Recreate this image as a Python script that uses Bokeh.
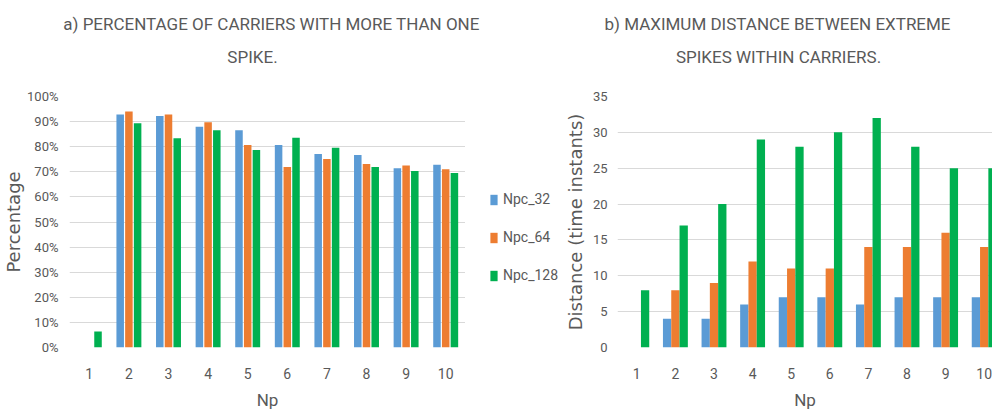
from bokeh.plotting import figure
from bokeh.layouts import row, column
from bokeh.models import (ColumnDataSource, Legend, LegendItem, Label, Range1d,
                          FixedTicker, PrintfTickFormatter)
from bokeh.transform import dodge
from bokeh.embed import file_html
from bokeh.resources import INLINE

# ---------------- data ----------------
np_values = [1, 2, 3, 4, 5, 6, 7, 8, 9, 10]
series_names = ["Npc_32", "Npc_64", "Npc_128"]

pct_npc32 = [0, 92.8, 92.2, 87.9, 86.6, 80.7, 77.1, 76.7, 71.4, 72.8]
pct_npc64 = [0, 94.0, 92.8, 89.7, 80.7, 71.9, 75.1, 73.1, 72.5, 71.0]
pct_npc128 = [6.4, 89.3, 83.4, 86.6, 78.7, 83.6, 79.6, 71.9, 70.3, 69.5]

dist_npc32 = [0, 4, 4, 6, 7, 7, 6, 7, 7, 7]
dist_npc64 = [0, 8, 9, 12, 11, 11, 14, 14, 16, 14]
dist_npc128 = [8, 17, 20, 29, 28, 30, 32, 28, 25, 25]

pct_ticks = [0, 10, 20, 30, 40, 50, 60, 70, 80, 90, 100]
dist_ticks = [0, 5, 10, 15, 20, 25, 30, 35]

title_a = ["a) PERCENTAGE OF CARRIERS WITH MORE THAN ONE", "SPIKE."]
title_b = ["b) MAXIMUM DISTANCE BETWEEN EXTREME", "SPIKES WITHIN CARRIERS."]

# ---------------- style ----------------
COLORS = ["#5B9BD5", "#ED7D31", "#00B050"]
FONT = "Roboto"
WIDE = "DejaVu Sans"
GRAY = "#595959"
ROW_H_TOP, FRAME_H, ROW_H_BOTTOM = 19, 251, 60


def style(p, ticks, fmt):
    p.outline_line_color = None
    p.xgrid.grid_line_color = None
    p.ygrid.grid_line_color = "#D9D9D9"
    p.ygrid.grid_line_width = 1
    p.axis.axis_line_color = None
    p.axis.major_tick_line_color = None
    p.axis.minor_tick_line_color = None
    p.axis.major_tick_out = 0
    p.axis.major_tick_in = 0
    p.axis.minor_tick_out = 0
    p.axis.minor_tick_in = 0
    p.axis.major_label_text_font = FONT
    p.axis.major_label_text_color = GRAY
    p.yaxis.major_label_text_font_size = "13px"
    p.xaxis.major_label_text_font_size = "14px"
    p.xaxis.ticker = FixedTicker(ticks=np_values)
    p.yaxis.ticker = FixedTicker(ticks=ticks)
    if fmt:
        p.yaxis.formatter = PrintfTickFormatter(format=fmt)
    p.axis.axis_label_text_color = GRAY
    p.axis.axis_label_text_font_style = "normal"
    p.xaxis.axis_label_text_font = FONT
    p.xaxis.axis_label_text_font_size = "17px"
    p.yaxis.axis_label_text_font = WIDE
    p.yaxis.axis_label_text_font_size = "18px"
    p.xaxis.major_label_standoff = 20
    p.xaxis.axis_label_standoff = 8


def blank(p):
    p.outline_line_color = None
    p.grid.grid_line_color = None


# ---------------- titles strip ----------------
TW, TH = 985, 77
pt = figure(width=TW, height=TH, x_range=Range1d(0, TW), y_range=Range1d(0, TH),
            min_border=0, x_axis_type=None, y_axis_type=None,
            output_backend="svg", toolbar_location=None)
blank(pt)
title_pos = [(271, 54), (252, 21), (777, 54), (778, 21)]
for t, (x, y) in zip(title_a + title_b, title_pos):
    pt.add_layout(Label(x=x, y=y, text=t, text_align="center", text_baseline="middle",
                        text_font=FONT, text_font_size="17px", text_color=GRAY))

# ---------------- chart a ----------------
src_a = ColumnDataSource(dict(np=np_values, s0=pct_npc32, s1=pct_npc64, s2=pct_npc128))
p1 = figure(frame_width=396, frame_height=FRAME_H, x_range=Range1d(0.5, 10.5),
            y_range=Range1d(0, 100), min_border_left=62, min_border_right=0,
            min_border_top=ROW_H_TOP, min_border_bottom=ROW_H_BOTTOM,
            output_backend="svg", toolbar_location=None)
style(p1, pct_ticks, "%d%%")
p1.yaxis.major_label_standoff = 11
p1.yaxis.axis_label_standoff = 0
p1.xaxis.axis_label = "Np"
p1.yaxis.axis_label = "Percentage"

for i, (col, off) in enumerate(zip(["s0", "s1", "s2"], [-0.22, 0.0, 0.22])):
    p1.vbar(x=dodge("np", off), top=col, width=0.19, source=src_a,
            fill_color=COLORS[i], line_color=None)

# ---------------- legend strip ----------------
LW, LH = 94, ROW_H_TOP + FRAME_H + ROW_H_BOTTOM
pl = figure(width=LW, height=LH, x_range=Range1d(0, 1), y_range=Range1d(0, 1),
            min_border=0, x_axis_type=None, y_axis_type=None,
            output_backend="svg", toolbar_location=None)
blank(pl)
key_src = ColumnDataSource(dict(x=[-5], top=[0]))
keys = [pl.vbar(x="x", top="top", width=0.1, source=key_src, fill_color=c, line_color=None)
        for c in COLORS]
legend = Legend(items=[LegendItem(label=n, renderers=[r]) for n, r in zip(series_names, keys)],
                location=(24, 57), margin=0, padding=0, spacing=18,
                glyph_width=9, glyph_height=13, label_height=20, label_standoff=5,
                label_text_font=FONT, label_text_font_size="14px",
                label_text_color=GRAY, background_fill_alpha=0,
                border_line_color=None)
pl.add_layout(legend)

# ---------------- chart b ----------------
FW2 = 375
src_b = ColumnDataSource(dict(np=np_values, s0=dist_npc32, s1=dist_npc64, s2=dist_npc128))
p2 = figure(frame_width=FW2, frame_height=FRAME_H, x_range=Range1d(0.5, 0.5 + FW2 / 38.6),
            y_range=Range1d(0, 35), min_border_left=58, min_border_right=0,
            min_border_top=ROW_H_TOP, min_border_bottom=ROW_H_BOTTOM,
            output_backend="svg", toolbar_location=None)
style(p2, dist_ticks, None)
p2.yaxis.major_label_standoff = 10
p2.yaxis.axis_label_standoff = 4
p2.xaxis.axis_label = "Np"
p2.yaxis.axis_label = "Distance (time instants)"

for i, (col, off) in enumerate(zip(["s0", "s1", "s2"], [-0.215, 0.0, 0.215])):
    p2.vbar(x=dodge("np", off), top=col, width=0.215, source=src_b,
            fill_color=COLORS[i], line_color=None)

layout = column(pt, row(p1, pl, p2, spacing=0), spacing=0)
open("out.html", "w").write(file_html(layout, INLINE))
